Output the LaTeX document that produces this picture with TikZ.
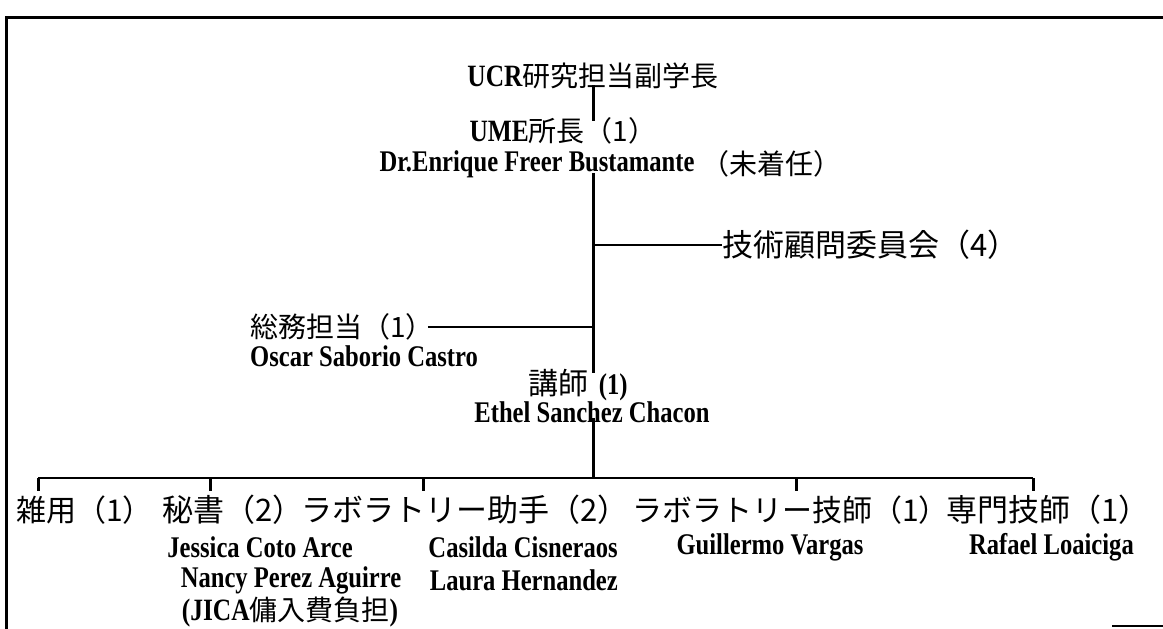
\documentclass[tikz,border=0pt]{standalone}
\usepackage{fontspec}
\setmainfont{Liberation Serif}[FakeStretch=0.82]
\newfontfamily\jp{Noto Sans CJK JP}
\newcommand{\lt}[1]{{\rmfamily\bfseries\fontsize{31}{34}\selectfont #1}}
\begin{document}
\begin{tikzpicture}[x=1pt,y=-1pt,
  lat/.style={inner sep=0pt, font=\fontsize{30}{33}\selectfont\bfseries},
  jtx/.style={inner sep=0pt, font=\fontsize{28}{32}\selectfont\jp},
  jbig/.style={inner sep=0pt, font=\fontsize{31}{34}\selectfont\jp},
  jmid/.style={inner sep=0pt, font=\fontsize{30}{34}\selectfont\jp},
  conn/.style={line width=2.2pt},
  spine/.style={line width=3pt},
  frameline/.style={line width=3pt}]
\useasboundingbox (0,0) rectangle (1163,629);
% frame
\coordinate (fr0) at (1163,17);
\coordinate (fr1) at (6,17);
\coordinate (fr2) at (6,629);
\draw[frameline] (fr0) -- (fr1) -- (fr2);
\coordinate (fr3) at (1112,626);
\coordinate (fr4) at (1163,626);
\draw[conn] (fr3) -- (fr4);
% top
\node[jtx] (ucr) at (593,76) {\lt{UCR}研究担当副学長};
\node[jtx] (ume) at (563,131) {\lt{UME}所長（1）};
\node[lat] (dr) at (537,164) {Dr.Enrique Freer Bustamante};
\node[jtx,anchor=west] (nyet) at (701,164) {（未着任）};
\node[jbig,anchor=west] (comm) at (722,245) {技術顧問委員会（4）};
\node[jtx,anchor=west] (soumu) at (250,327) {総務担当（1）};
\node[lat,anchor=west] (oscar) at (250,356) {Oscar Saborio Castro};
\node[lat] (lect) at (578,385) {{\jp\mdseries\fontsize{30}{33}\selectfont 講師}\hspace{0.35em}(1)};
\node[lat] (ethel) at (592,412) {Ethel Sanchez Chacon};
% bottom row
\node[jmid,anchor=west] (b1) at (16,510) {雑用（1）};
\node[jbig,anchor=west] (b2) at (162,510) {秘書（2）};
\node[jbig,anchor=west] (b3) at (301,510) {ラボラトリー助手（2）};
\node[jmid,anchor=west] (b4) at (632,510) {ラボラトリー技師（1）};
\node[jbig,anchor=west] (b5) at (946,510) {専門技師（1）};
\node[lat] (jes) at (260,547) {Jessica Coto Arce};
\node[lat] (nan) at (291,580) {Nancy Perez Aguirre};
\node[jtx] (jica) at (290,612) {\lt{(JICA}傭入費負担\lt{)}};
\node[lat,anchor=east] (cas) at (618,547) {Casilda Cisneraos};
\node[lat,anchor=east] (lau) at (618,580) {Laura Hernandez};
\node[lat] (gui) at (770,547) {Guillermo Vargas};
\node[lat,anchor=east] (raf) at (1134,547) {Rafael Loaiciga};
% connectors
\draw[spine] ([yshift=4]ucr.south) -- ([yshift=-4]ucr.south |- ume.north);
\draw[spine] ([yshift=5]ucr.south |- dr.south) -- ([yshift=-4]ucr.south |- lect.north);
\draw[conn] (ucr.south |- comm.west) -- (comm.west);
\draw[conn] ([xshift=-6]soumu.east) -- (ucr.south |- soumu.east);
\coordinate (bar) at (0,478);
\draw[spine] ([yshift=5]ucr.south |- ethel.south) -- (ucr.south |- bar);
\coordinate (t1) at (38,491);
\coordinate (t2) at (210,491);
\coordinate (t3) at (423,491);
\coordinate (t4) at (796,491);
\coordinate (t5) at (1033,491);
\draw[conn] (t1 |- bar) -- (t5 |- bar);
\foreach \t in {t1,t2,t3,t4,t5} \draw[spine] (\t |- bar) -- (\t);
\end{tikzpicture}
\end{document}
